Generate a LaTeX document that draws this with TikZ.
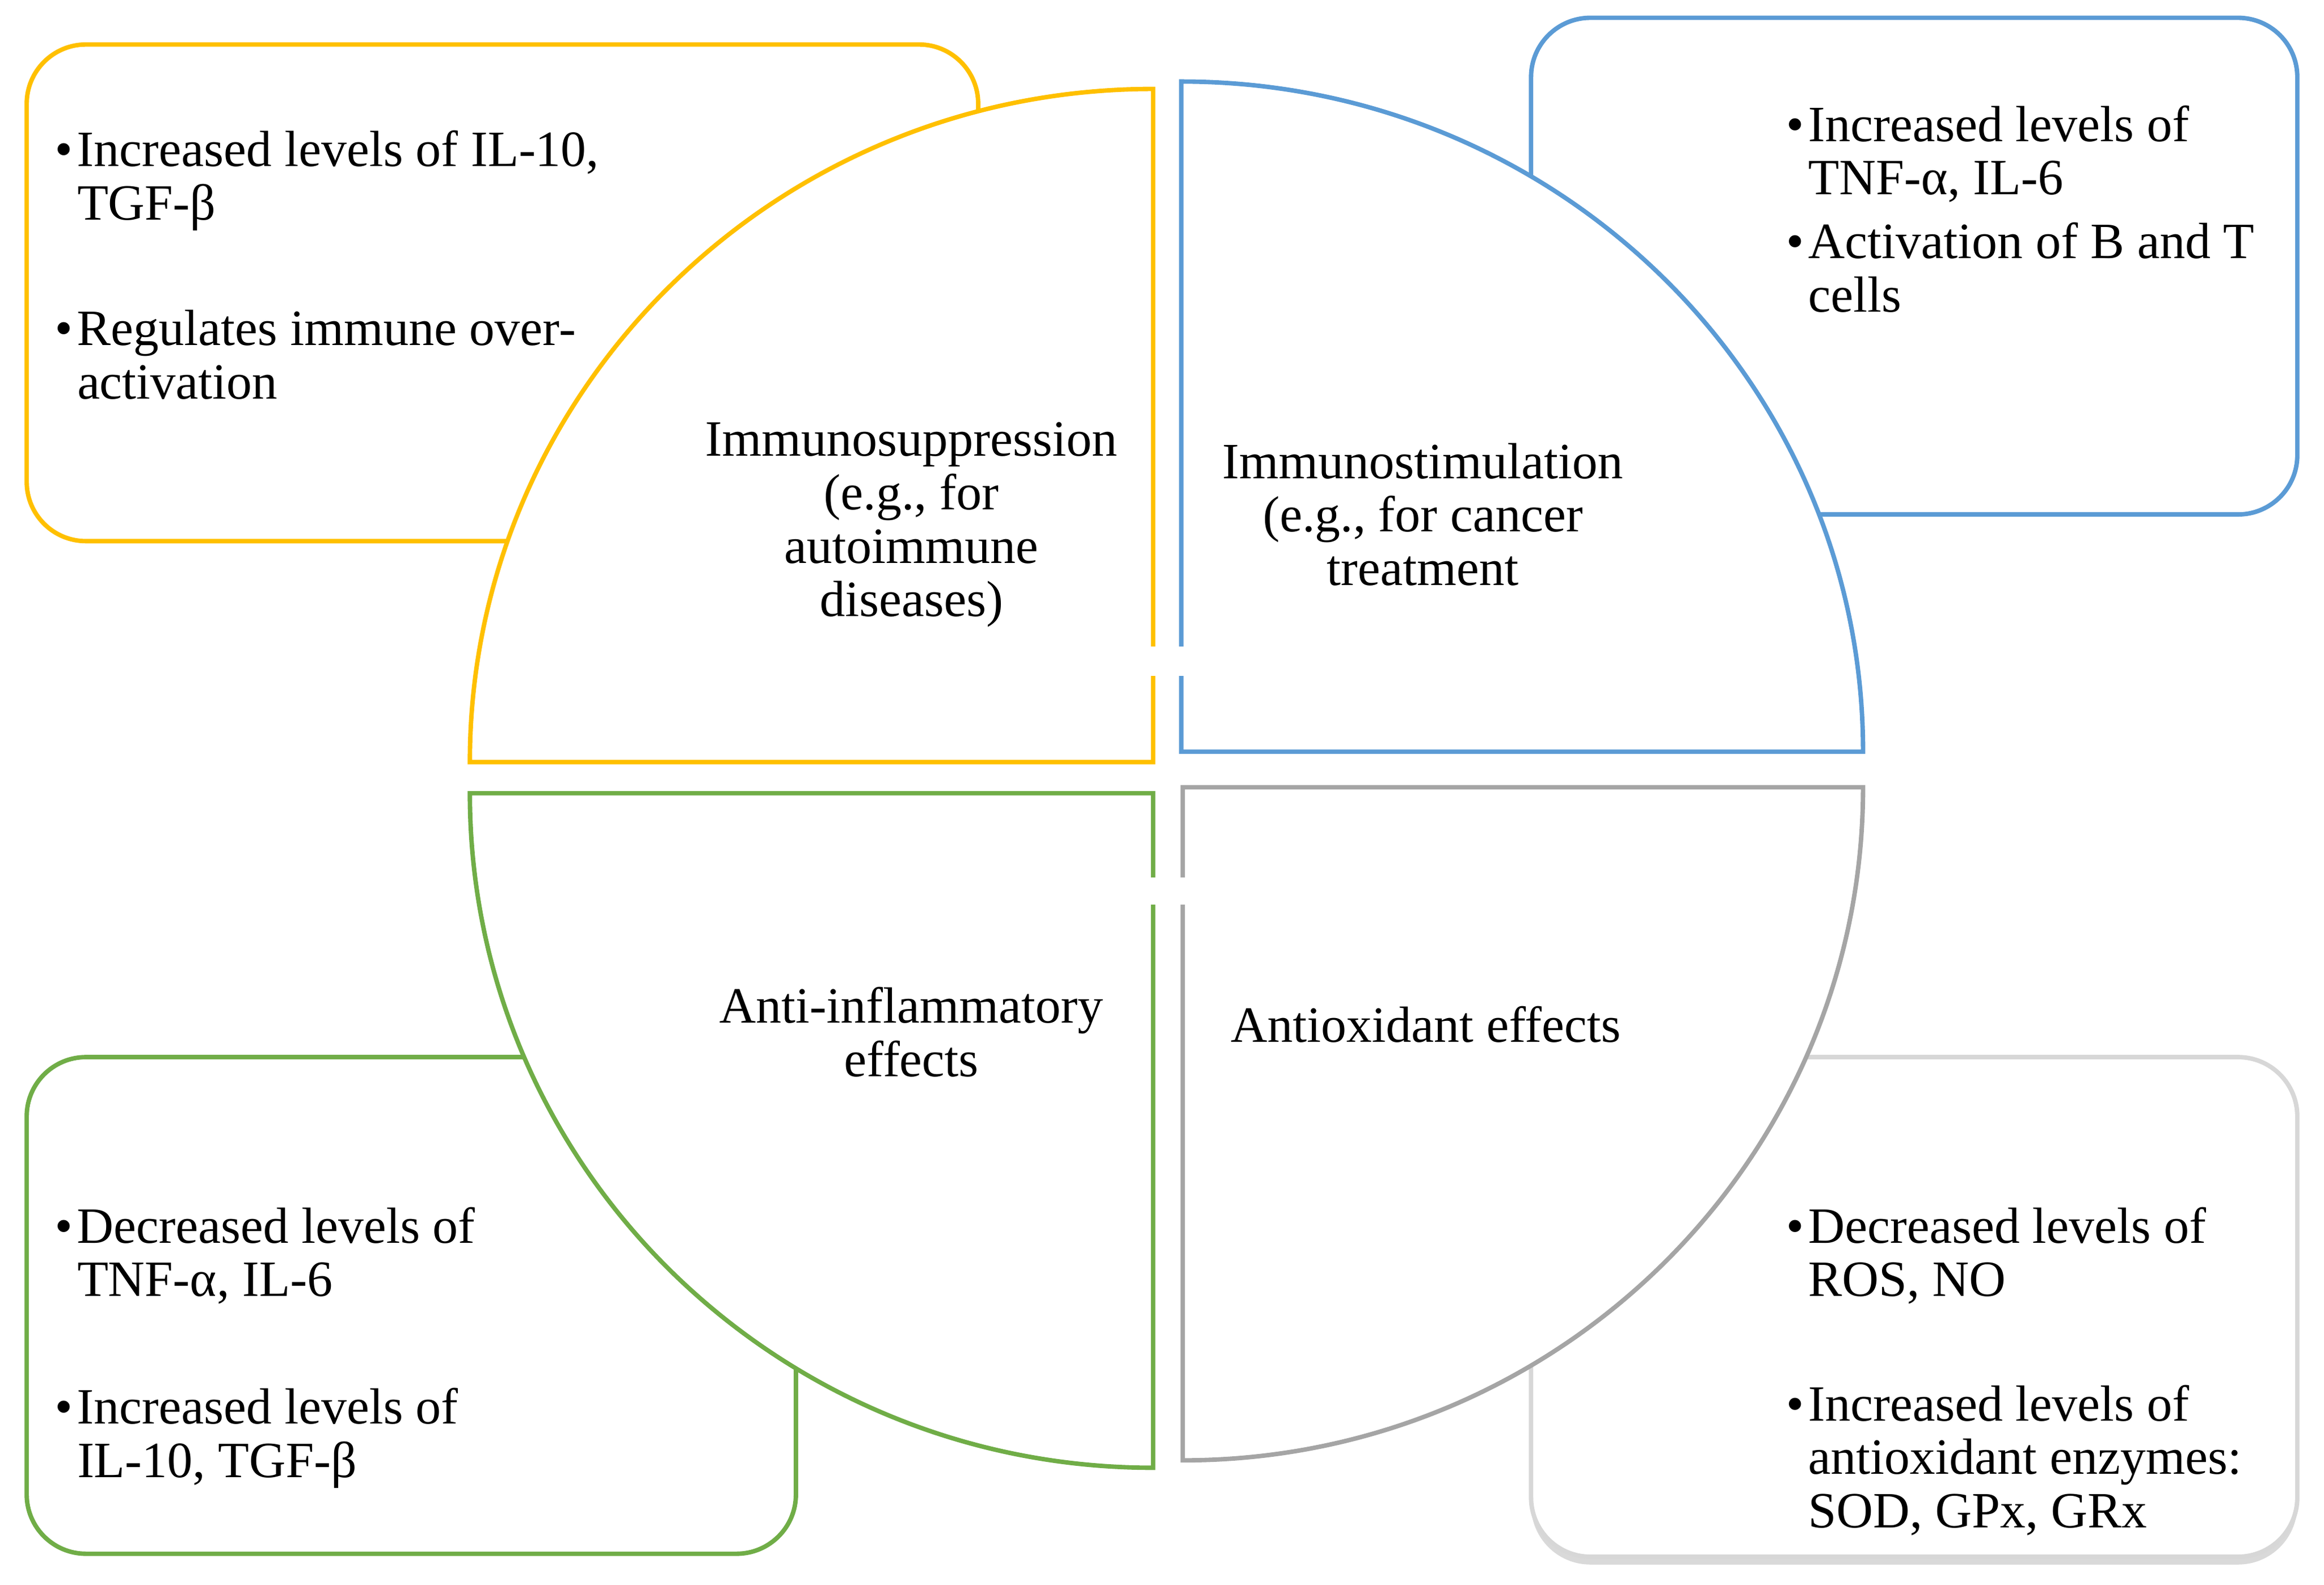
\documentclass[tikz,border=0pt]{standalone}
\usepackage{fontspec}
\setmainfont{Liberation Serif}
\usetikzlibrary{shadows}
\definecolor{cy}{HTML}{FFC000}
\definecolor{cb}{HTML}{5B9BD5}
\definecolor{cg}{HTML}{70AD47}
\definecolor{cr}{HTML}{A5A5A5}
\newcommand{\bl}{\makebox[0.6cm][l]{•}}
\newcommand{\ind}{\hspace*{0.6cm}}
\begin{document}
\begin{tikzpicture}[x=0.04cm,y=-0.04cm,
  box/.style={line width=3.4pt,rounded corners=1.6cm,fill=white},
  sec/.style={line width=3.4pt,fill=white},
  txt/.style={font=\fontsize{39}{41}\selectfont,align=left,anchor=north west,inner sep=0pt},
  lab/.style={font=\fontsize{39}{41}\selectfont,align=center,inner sep=0pt}]
\useasboundingbox (0,0) rectangle (1568,1069);
% boxes
\draw[box,draw=cy] (18,30) rectangle (660,365);
\draw[box,draw=cb] (1033,12) rectangle (1550,347);
\draw[box,draw=cg] (18,713) rectangle (537,1048);
\draw[box,draw=cr!45,drop shadow={shadow xshift=0pt,shadow yshift=-6pt,opacity=0.3}] (1033,713) rectangle (1550,1050);
% sectors
\draw[sec,draw=cy] (778,514) -- (317,514) arc[start angle=180,end angle=270,x radius=461,y radius=454] -- cycle;
\draw[sec,draw=cb] (797,507) -- (797,55) arc[start angle=270,end angle=360,x radius=460,y radius=452] -- cycle;
\draw[sec,draw=cr] (798,531) -- (1257,531) arc[start angle=0,end angle=90,x radius=459,y radius=454] -- cycle;
\draw[sec,draw=cg] (778,535) -- (778,990) arc[start angle=90,end angle=180,x radius=461,y radius=455] -- cycle;
% gaps in inner vertical edges
\fill[white] (770,436) rectangle (806,456);
\fill[white] (770,592) rectangle (806,610);
% quadrant labels
\node[lab] (q1) at (615,354) {Immunosuppression\\(e.g., for\\autoimmune\\diseases)};
\node[lab] (q2) at (960,347) {Immunostimulation\\(e.g., for cancer\\treatment};
\node[lab] (q3) at (615,696) {Anti-inflammatory\\effects};
\node[lab] (q4) at (962,691) {Antioxidant effects};
% bullets
\node[txt] (t1) at (37,88) {\bl Increased levels of IL-10,\\\ind TGF-β};
\node[txt] (t2) at (37,209) {\bl Regulates immune over-\\\ind activation};
\node[txt] (t3) at (1205,71) {\bl Increased levels of\\\ind TNF-α, IL-6};
\node[txt] (t4) at (1205,150) {\bl Activation of B and T\\\ind cells};
\node[txt] (t5) at (37,814) {\bl Decreased levels of\\\ind TNF-α, IL-6};
\node[txt] (t6) at (37,936) {\bl Increased levels of\\\ind IL-10, TGF-β};
\node[txt] (t7) at (1205,814) {\bl Decreased levels of\\\ind ROS, NO};
\node[txt] (t8) at (1205,934) {\bl Increased levels of\\\ind antioxidant enzymes:\\\ind SOD, GPx, GRx};
\end{tikzpicture}
\end{document}
